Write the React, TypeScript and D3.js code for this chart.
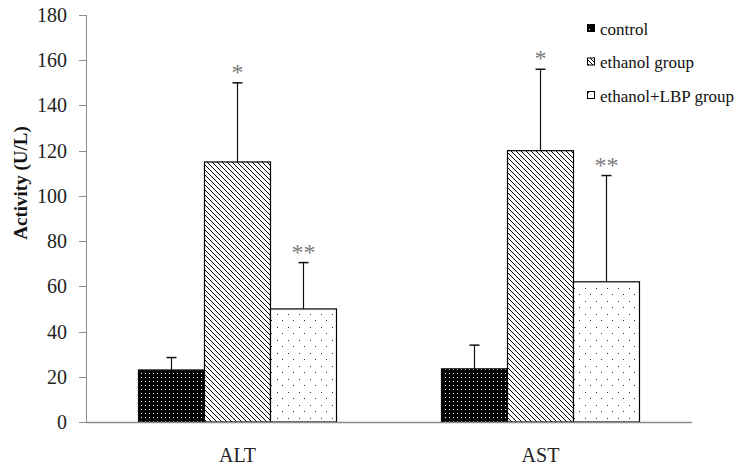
import React from "react";
import * as d3 from "d3";

const categories = ["ALT", "AST"];
const seriesNames = ["control", "ethanol group", "ethanol+LBP group"];
const controlValues = [23, 23.5];
const controlErrors = [28.5, 34];
const ethanolValues = [115, 120];
const ethanolErrors = [150, 156];
const lbpValues = [50, 62];
const lbpErrors = [70.5, 109];
const ethanolMarks = ["*", "*"];
const lbpMarks = ["**", "**"];
const yTicks = [0, 20, 40, 60, 80, 100, 120, 140, 160, 180];

const W = 748;
const H = 473;
const FONT = '"Liberation Serif", "Times New Roman", serif';

export default function App() {
  const x = d3.scaleBand<string>().domain(categories).range([86, 692]).paddingInner(0).paddingOuter(0);
  const y = d3.scaleLinear().domain([0, 180]).range([422, 15]);
  const barW = 66;
  const series = [
    { name: seriesNames[0], values: controlValues, errs: controlErrors, fill: "url(#pControl)", marks: null as string[] | null },
    { name: seriesNames[1], values: ethanolValues, errs: ethanolErrors, fill: "url(#pEthanol)", marks: ethanolMarks },
    { name: seriesNames[2], values: lbpValues, errs: lbpErrors, fill: "url(#pLbp)", marks: lbpMarks },
  ];
  const legendFills = ["url(#pControlL)", "url(#pEthanolL)", "url(#pLbpL)"];

  return (
    <svg width={W} height={H} style={{ position: "absolute", left: 0, top: 0, background: "#fff", fontFamily: FONT }}>
      <defs>
        <pattern id="pControl" width="4" height="4" patternUnits="userSpaceOnUse">
          <rect width="4" height="4" fill="#000" />
          <rect x="1" y="1" width="1" height="1" fill="#fff" />
        </pattern>
        <pattern id="pEthanol" width="5" height="5" patternUnits="userSpaceOnUse">
          <rect width="5" height="5" fill="#fff" />
          <path d="M0,0 L5,5 M-1,4 L1,6 M4,-1 L6,1" stroke="#000" strokeWidth="1" />
        </pattern>
        <pattern id="pLbp" width="11" height="13" patternUnits="userSpaceOnUse">
          <rect width="11" height="13" fill="#fff" />
          <rect x="2" y="2" width="1" height="1" fill="#333" />
          <rect x="7" y="8" width="1" height="1" fill="#333" />
        </pattern>
        <pattern id="pControlL" width="8" height="8" patternUnits="userSpaceOnUse">
          <rect width="8" height="8" fill="#000" />
          <rect x="3" y="3" width="1" height="1" fill="#fff" />
          <rect x="5" y="5" width="1" height="1" fill="#fff" />
        </pattern>
        <pattern id="pEthanolL" width="4" height="4" patternUnits="userSpaceOnUse">
          <rect width="4" height="4" fill="#fff" />
          <path d="M0,0 L4,4 M-1,3 L1,5 M3,-1 L5,1" stroke="#000" strokeWidth="1" />
        </pattern>
        <pattern id="pLbpL" width="8" height="8" patternUnits="userSpaceOnUse">
          <rect width="8" height="8" fill="#fff" />
          <rect x="4" y="4" width="1" height="1" fill="#000" />
        </pattern>
      </defs>

      {/* y axis */}
      <line x1={86.5} x2={86.5} y1={y(180)} y2={y(0)} stroke="#8c8c8c" strokeWidth={1} />
      {yTicks.map((t) => (
        <g key={t}>
          <line x1={79} x2={86} y1={Math.round(y(t)) + 0.5} y2={Math.round(y(t)) + 0.5} stroke="#8c8c8c" />
          <text x={67} y={y(t)} dy="0.35em" textAnchor="end" fontSize={20} fill="#222">
            {t}
          </text>
        </g>
      ))}
      <text
        transform={`translate(27,${183}) rotate(-90)`}
        textAnchor="middle"
        fontSize={19}
        fontWeight="bold"
        fill="#111"
      >
        Activity (U/L)
      </text>

      {/* bars */}
      {categories.map((c, ci) => {
        const center = (x(c) as number) + x.bandwidth() / 2;
        const start = center - (barW * 3) / 2;
        return (
          <g key={c}>
            {series.map((s, si) => {
              const bx = start + si * barW;
              const top = y(s.values[ci]);
              const errTop = y(s.errs[ci]);
              const mx = bx + barW / 2;
              return (
                <g key={s.name}>
                  <line x1={mx} x2={mx} y1={top} y2={errTop} stroke="#111" strokeWidth={1.2} />
                  <line x1={mx - 5} x2={mx + 5} y1={errTop} y2={errTop} stroke="#111" strokeWidth={1.5} />
                  <rect x={bx} y={top} width={barW} height={y(0) - top} fill={s.fill} stroke="#000" strokeWidth={1.2} />
                  {s.marks && (
                    <text x={mx} y={errTop - 3} textAnchor="middle" fontSize={24} fill="#7a7a7a">
                      {s.marks[ci]}
                    </text>
                  )}
                </g>
              );
            })}
            <text x={center} y={462} textAnchor="middle" fontSize={20} fill="#222">
              {c}
            </text>
          </g>
        );
      })}

      {/* x axis */}
      <line x1={86} x2={692} y1={422.5} y2={422.5} stroke="#8c8c8c" strokeWidth={1.5} />

      {/* legend */}
      {seriesNames.map((n, i) => {
        const ly = 29 + i * 33.5;
        return (
          <g key={n}>
            <rect x={587.5} y={ly - 4.5} width={7} height={7} fill={legendFills[i]} stroke="#000" strokeWidth={1} />
            <text x={600} y={ly} dy="0.35em" fontSize={17} fill="#111">
              {n}
            </text>
          </g>
        );
      })}
    </svg>
  );
}
